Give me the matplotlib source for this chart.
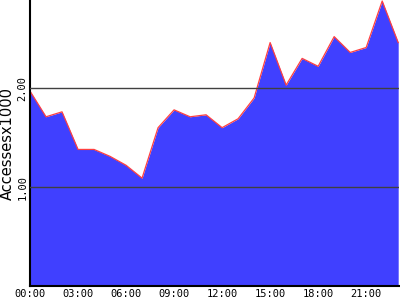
import matplotlib
matplotlib.use("Agg")
import matplotlib.pyplot as plt
import numpy as np

hours = list(range(24))
accesses = [1.97, 1.71, 1.76, 1.38, 1.38, 1.31, 1.22, 1.09, 1.60, 1.78, 1.71, 1.73,
            1.60, 1.69, 1.90, 2.46, 2.03, 2.30, 2.22, 2.52, 2.36, 2.41, 2.88, 2.46]
xtick_pos = [0, 3, 6, 9, 12, 15, 18, 21]
xtick_labels = ["00:00", "03:00", "06:00", "09:00", "12:00", "15:00", "18:00", "21:00"]
ytick_pos = [1, 2]
ytick_labels = ["1.00", "2.00"]

fig = plt.figure(figsize=(4, 3), dpi=100)
ax = fig.add_axes([30 / 400, 14 / 300, 369 / 400, 286 / 300])

ax.fill_between(hours, accesses, 0, color="#4040ff", lw=0, zorder=1)
ax.plot(hours, accesses, color="#ff4040", lw=0.9, zorder=2)
for y in ytick_pos:
    ax.axhline(y, color="#404040", lw=1, zorder=3)

ax.set_xlim(0, 23.05)
ax.set_ylim(0, 2.89)
ax.set_xticks(xtick_pos)
ax.set_xticklabels(xtick_labels, family="DejaVu Sans Mono", fontsize=7.5)
ax.set_yticks(ytick_pos)
ax.set_yticklabels(ytick_labels, family="DejaVu Sans Mono", fontsize=7.5,
                   rotation=90, va="center")
ax.tick_params(length=0, pad=2)
ax.set_ylabel("Accessesx1000", family="DejaVu Sans", fontsize=10.5)
ax.yaxis.set_label_coords(-0.042, 0.5)
ax.spines["top"].set_visible(False)
ax.spines["right"].set_visible(False)
ax.spines["left"].set_linewidth(1.5)
ax.spines["bottom"].set_linewidth(1.5)

fig.savefig("out.png", dpi=100)
